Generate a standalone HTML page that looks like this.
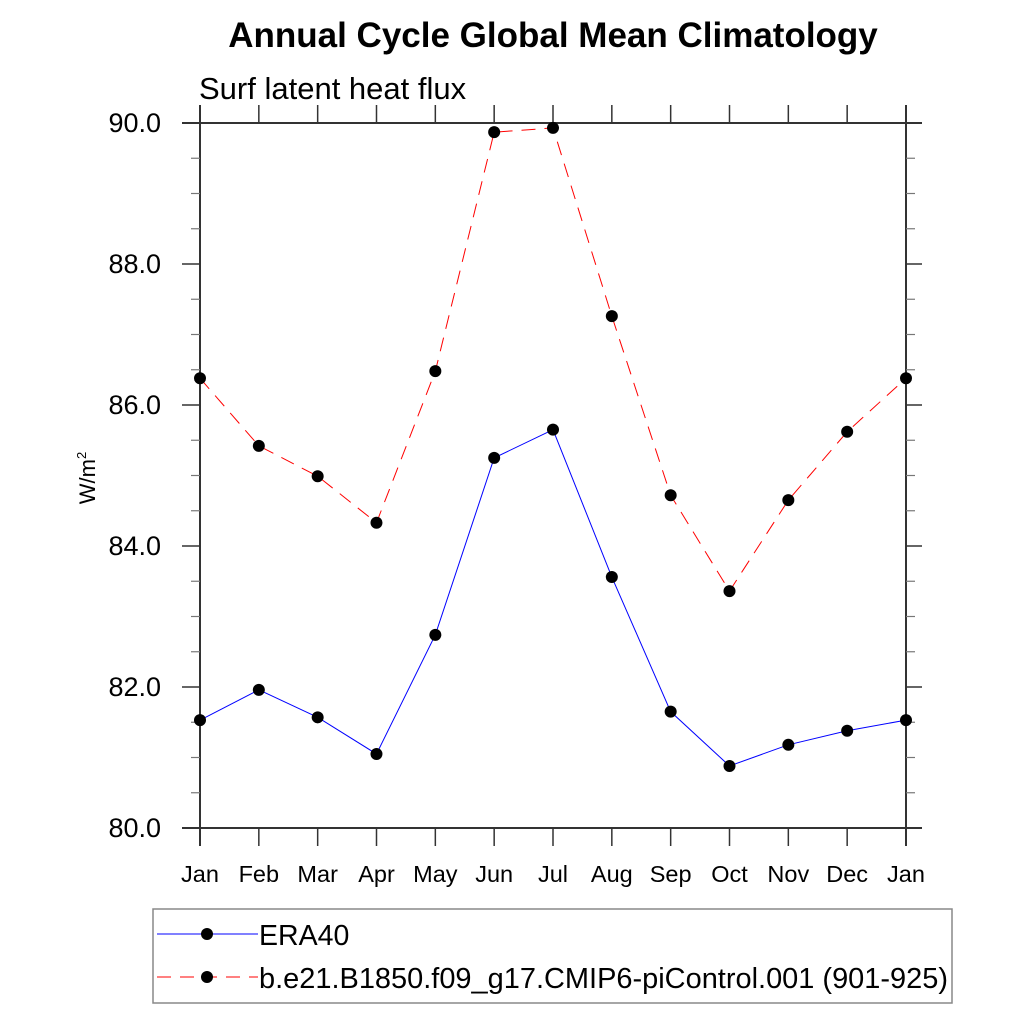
<!DOCTYPE html>
<html><head><meta charset="utf-8"><style>
body{margin:0;background:#fff}
svg text{font-family:"Liberation Sans",sans-serif}
</style></head><body>
<svg id="chart" width="1024" height="1024" xmlns="http://www.w3.org/2000/svg">
<text x="553" y="47" text-anchor="middle" font-size="35" font-weight="bold">Annual Cycle Global Mean Climatology</text>
<text x="199" y="99" font-size="31">Surf latent heat flux</text>
<text transform="translate(95,478) rotate(-90)" text-anchor="middle" font-size="22">W/m<tspan font-size="13" dy="-9">2</tspan></text>
<g id="axes"></g>
<g id="series"></g>
<g>
<rect x="153" y="909" width="799" height="94" fill="none" stroke="#888" stroke-width="1.5"/>
<g>
<line x1="157" y1="934" x2="258" y2="934" stroke="#0000ff" stroke-width="1"/>
<circle cx="207" cy="934" r="6" fill="#000"/>
<text x="259" y="945" font-size="28.5">ERA40</text></g>
<g>
<line x1="157" y1="977" x2="258" y2="977" stroke="#ff0000" stroke-width="1" stroke-dasharray="14,9"/>
<circle cx="207" cy="977" r="6" fill="#000"/>
<text x="259" y="988" font-size="28.5" textLength="689" lengthAdjust="spacingAndGlyphs">b.e21.B1850.f09_g17.CMIP6-piControl.001 (901-925)</text></g>
</g>
</svg>
<script>
const months=["Jan","Feb","Mar","Apr","May","Jun","Jul","Aug","Sep","Oct","Nov","Dec","Jan"];
const era40=[81.53,81.96,81.57,81.05,82.74,85.25,85.65,83.56,81.65,80.88,81.18,81.38,81.53];
const model=[86.38,85.42,84.99,84.33,86.48,89.87,89.93,87.26,84.72,83.36,84.65,85.62,86.38];
const yTicks=[80,82,84,86,88,90];
const NS="http://www.w3.org/2000/svg";
const X0=200,X1=906,Y0=828,Y1=123,YMIN=80,YMAX=90;
const xs=i=>X0+(X1-X0)*i/(months.length-1);
const ys=v=>Y0-(v-YMIN)/(YMAX-YMIN)*(Y0-Y1);
function mk(p,t,a){const e=document.createElementNS(NS,t);for(const k in a)e.setAttribute(k,a[k]);p.appendChild(e);return e;}
const ax=document.getElementById('axes');


const ln=(a,b,c,d,w,col)=>mk(ax,'line',{x1:a,y1:b,x2:c,y2:d,stroke:col||'#333','stroke-width':w||1.5});
ln(182,Y1,922,Y1,2);ln(182,Y0,922,Y0,2);ln(X0,105,X0,846,2);ln(X1,105,X1,846,2);
months.forEach((m,i)=>{const x=xs(i);ln(x,Y0,x,846,1.5);ln(x,105,x,Y1,1.5);
const t=mk(ax,'text',{x:x,y:882,'text-anchor':'middle','font-size':23.5});t.textContent=m;

});
for(let v=YMIN;v<=YMAX+0.001;v+=0.5){const y=ys(v);const major=Math.abs(v-Math.round(v/2)*2)<0.01;
if(major){ln(182,y,X0,y,1.5);ln(X1,y,922,y,1.5);}else{ln(191,y,X0,y,1.2,'#777');ln(X1,y,915,y,1.2,'#777');}}
yTicks.forEach(v=>{const t=mk(ax,'text',{x:161,y:ys(v)+9,'text-anchor':'end','font-size':27});t.textContent=v.toFixed(1);

});
const sg=document.getElementById('series');
function draw(data,col,dash,name){const g=mk(sg,'g',{});


mk(g,'polyline',{points:data.map((v,i)=>xs(i)+','+ys(v)).join(' '),fill:'none',stroke:col,'stroke-width':1,'stroke-dasharray':dash});
data.forEach((v,i)=>{const c=mk(g,'circle',{cx:xs(i),cy:ys(v),r:6,fill:'#000'});

});}
draw(model,'#ff0000','14,9','series-model');
draw(era40,'#0000ff','none','series-era40');
</script>
</body></html>
